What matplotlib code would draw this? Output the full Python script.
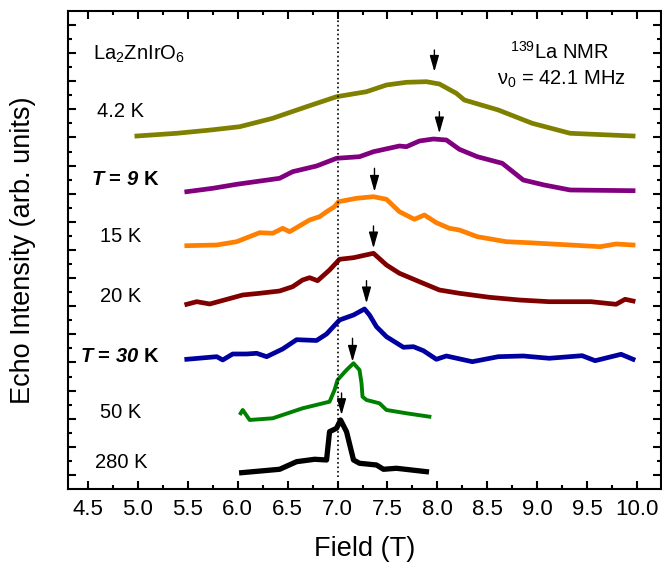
import numpy as np
import matplotlib
matplotlib.use('Agg')
import matplotlib.pyplot as plt

plt.rcParams['font.family'] = ['Liberation Sans', 'DejaVu Sans']
plt.rcParams['mathtext.fontset'] = 'custom'
plt.rcParams['mathtext.rm'] = 'Liberation Sans'
plt.rcParams['mathtext.it'] = 'Liberation Sans:italic'
plt.rcParams['mathtext.bf'] = 'Liberation Sans:italic:bold'

# spectra (field in T, echo intensity in arb. units, offset per temperature)
field_4K = [4.99, 5.39, 5.73, 6.02, 6.35, 6.69, 6.99, 7.29, 7.49, 7.69, 7.89, 8.02, 8.19, 8.27, 8.61, 8.95, 9.33, 9.96]
echo_4K = [353, 355.7, 359, 362.3, 370.7, 382.3, 392.3, 397.3, 404, 406.7, 407.3, 405, 395.7, 389, 379, 365.7, 355.7, 353]

field_9K = [5.49, 5.75, 5.99, 6.42, 6.55, 6.79, 6.99, 7.22, 7.36, 7.62, 7.69, 7.82, 7.96, 8.09, 8.22, 8.4, 8.65, 8.86, 9.07, 9.33, 9.96]
echo_9K = [297.3, 300.7, 304.7, 310.7, 317.3, 323, 330.7, 332.3, 337.3, 343, 342.3, 348, 350, 349, 339.7, 332.3, 325.7, 309, 304, 299, 298.3]

field_15K = [5.49, 5.79, 5.99, 6.22, 6.35, 6.45, 6.52, 6.72, 6.82, 6.89, 6.97, 7.01, 7.19, 7.36, 7.49, 7.62, 7.77,
             7.87, 7.99, 8.12, 8.22, 8.4, 8.69, 8.91, 9.33, 9.63, 9.79, 9.96]
echo_15K = [243.3, 244, 247.3, 256.3, 255.7, 260.7, 257.3, 269, 272.3, 277.3, 282.3, 287.3, 290.7, 292.3, 289.7, 277.3,
            269.7, 274, 266.3, 260.7, 259, 252.3, 247.3, 246.3, 244, 242.3, 245, 244]

field_20K = [5.49, 5.59, 5.72, 6.05, 6.22, 6.42, 6.55, 6.65, 6.72, 6.8, 6.92, 7.02, 7.16, 7.36, 7.49, 7.62, 7.82,
             8.02, 8.22, 8.52, 8.82, 9.12, 9.54, 9.79, 9.88, 9.96]
echo_20K = [184.7, 187.3, 185, 194, 195.7, 198, 202.3, 209, 211.3, 208.3, 219, 229.7, 231.3, 235.7, 224, 215.7, 207.3,
            199, 195.7, 191.7, 189, 187.3, 187.3, 184.7, 189.7, 188]

field_30K = [5.49, 5.79, 5.85, 5.95, 6.09, 6.19, 6.29, 6.45, 6.59, 6.79, 6.89, 7.02, 7.16, 7.27, 7.32, 7.39, 7.49,
             7.66, 7.76, 7.86, 7.99, 8.09, 8.35, 8.61, 8.86, 9.12, 9.45, 9.58, 9.84, 9.96]
echo_30K = [129.7, 132.3, 129, 135, 135, 135.7, 132.3, 140, 149.3, 148.5, 155, 169, 174, 180, 174, 162.3, 152.3,
            141.7, 142.3, 138.3, 129.7, 133, 127.3, 132.3, 133, 130.7, 133.3, 128.3, 134.7, 129.7]

field_50K = [6.03, 6.05, 6.12, 6.35, 6.65, 6.92, 6.97, 7.0, 7.09, 7.16, 7.22, 7.24, 7.25, 7.29, 7.42, 7.49, 7.69, 7.92]
echo_50K = [75.7, 79, 69, 70.7, 80.7, 87.3, 99, 109, 119, 125.7, 119, 106, 92.3, 89, 85.7, 79, 75.7, 72.3]

field_280K = [6.04, 6.42, 6.59, 6.77, 6.89, 6.92, 6.99, 7.03, 7.09, 7.16, 7.22, 7.39, 7.46, 7.59, 7.89]
echo_280K = [16.3, 19.7, 27.3, 29.7, 29, 57.3, 60.7, 69, 57.3, 29, 25.7, 24, 19.7, 20.7, 17.3]

# peak markers: field, arrow top, arrow tip
arrow_field = [7.97, 8.02, 7.37, 7.36, 7.29, 7.15, 7.04]
arrow_top = [439, 377.3, 320.7, 263, 208.3, 150.7, 96]
arrow_tip = [417.3, 355.7, 297.3, 240.7, 185.7, 127.3, 74]

fig = plt.figure(figsize=(6.62, 5.67), dpi=100)
ax = fig.add_axes([0.1027, 0.1376, 0.8958, 0.843])

ax.plot(field_4K, echo_4K, color='#808000', lw=3.4, solid_joinstyle='round')
ax.plot(field_9K, echo_9K, color='#800080', lw=3.4, solid_joinstyle='round')
ax.plot(field_15K, echo_15K, color='#ff8000', lw=3.4, solid_joinstyle='round')
ax.plot(field_20K, echo_20K, color='#800000', lw=3.4, solid_joinstyle='round')
ax.plot(field_30K, echo_30K, color='#0000a0', lw=3.4, solid_joinstyle='round')
ax.plot(field_50K, echo_50K, color='#008000', lw=2.8, solid_joinstyle='round')
ax.plot(field_280K, echo_280K, color='black', lw=3.8, solid_joinstyle='round')

# reference field
ax.axvline(7.0, ymin=0.025, ymax=1, color='black', ls=':', lw=1.2)

for xa, yt, yb in zip(arrow_field, arrow_top, arrow_tip):
    ax.annotate('', xy=(xa, yb), xytext=(xa, yt),
                arrowprops=dict(arrowstyle='-|>,head_length=0.7,head_width=0.2',
                                color='black', lw=1, mutation_scale=14, shrinkA=0, shrinkB=0))

ax.text(4.547, 429, 'La$_2$ZnIrO$_6$', fontsize=14.5, ha='left', va='baseline')
ax.text(9.22, 429.7, '$^{139}$La NMR', fontsize=14.5, ha='center', va='baseline')
ax.text(9.24, 404, 'ν$_0$ = 42.1 MHz', fontsize=14.5, ha='center', va='baseline')

ax.text(4.83, 372, '4.2 K', fontsize=14.5, ha='center', va='baseline')
ax.text(4.527, 304, r'$\mathbf{T}$ = $\mathbf{9}$ K', fontsize=14.5, fontweight='bold', ha='left', va='baseline')
ax.text(4.83, 246.7, '15 K', fontsize=14.5, ha='center', va='baseline')
ax.text(4.83, 186.7, '20 K', fontsize=14.5, ha='center', va='baseline')
ax.text(4.417, 126.7, r'$\mathbf{T}$ = $\mathbf{30}$ K', fontsize=14.5, fontweight='bold', ha='left', va='baseline')
ax.text(4.83, 71, '50 K', fontsize=14.5, ha='center', va='baseline')
ax.text(4.83, 21.3, '280 K', fontsize=14.5, ha='center', va='baseline')

ax.set_xlim(4.3, 10.24)
ax.set_ylim(0, 478)
ax.set_xticks(np.arange(4.5, 10.01, 0.5))
ax.set_xticks(np.arange(4.75, 10.2, 0.5), minor=True)
ax.set_yticks(np.arange(14.06, 478, 28.12))
ax.set_yticks(np.arange(28.12, 470, 28.12), minor=True)
ax.set_xticklabels(['%.1f' % v for v in np.arange(4.5, 10.01, 0.5)])
ax.set_yticklabels([])

ax.tick_params(which='both', direction='in', top=True, right=True, width=1.5, labelsize=16)
ax.tick_params(which='major', length=6, pad=7)
ax.tick_params(which='minor', length=3)
for s in ax.spines.values():
    s.set_linewidth(1.5)

ax.set_xlabel('Field (T)', fontsize=19.5, labelpad=12)
ax.set_ylabel('Echo Intensity (arb. units)', fontsize=19.5, labelpad=16)

fig.savefig('out.png', dpi=100)
